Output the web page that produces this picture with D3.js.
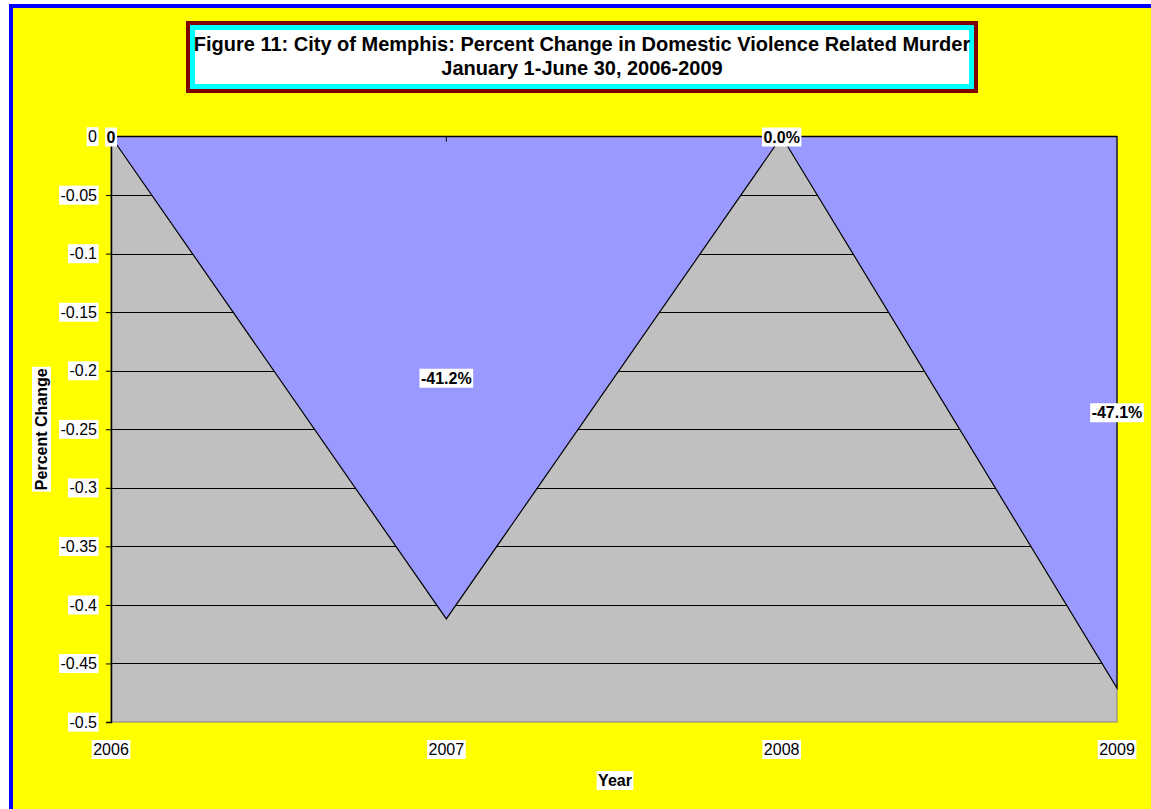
<!DOCTYPE html>
<html>
<head>
<meta charset="utf-8">
<script src="https://cdn.jsdelivr.net/npm/d3@7"></script>
<style>
  html, body { margin: 0; padding: 0; background: #ffffff; }
  svg { display: block; }
  text { font-family: "Liberation Sans", Arial, sans-serif; }
</style>
</head>
<body>
<svg id="chart" width="1151" height="809"></svg>
<script>
// ---- data ----
const years = ["2006", "2007", "2008", "2009"];
const percentChange = [0, -0.412, 0, -0.471];
const dataLabels = ["0", "-41.2%", "0.0%", "-47.1%"];
const yTicks = [0, -0.05, -0.1, -0.15, -0.2, -0.25, -0.3, -0.35, -0.4, -0.45, -0.5];
const titleLines = ["Figure 11: City of Memphis: Percent Change in Domestic Violence Related Murder",
                    "January 1-June 30, 2006-2009"];
const xTitle = "Year";
const yTitle = "Percent Change";

// ---- layout ----
const svg = d3.select("#chart");
const W = 1151, H = 809;
const plot = { left: 111, right: 1117, top: 136.5, bottom: 722 };

// background + blue frame
svg.append("rect").attr("x", 0).attr("y", 0).attr("width", W).attr("height", H).attr("fill", "#ffffff");
svg.append("rect").attr("x", 11).attr("y", 6).attr("width", W + 50).attr("height", H + 50)
  .attr("fill", "#FFFF00").attr("stroke", "#0000FF").attr("stroke-width", 4);

const x = d3.scalePoint().domain(years).range([plot.left, plot.right]);
const y = d3.scaleLinear().domain([-0.5, 0]).range([plot.bottom, plot.top]);

// plot background
svg.append("rect").attr("x", plot.left).attr("y", plot.top)
  .attr("width", plot.right - plot.left).attr("height", plot.bottom - plot.top)
  .attr("fill", "#C0C0C0").attr("stroke", "#808080").attr("stroke-width", 1);

// gridlines
svg.append("g").selectAll("line").data(yTicks.filter(t => t !== 0 && t !== -0.5)).join("line")
  .attr("x1", plot.left).attr("x2", plot.right)
  .attr("y1", d => Math.round(y(d)) + 0.5).attr("y2", d => Math.round(y(d)) + 0.5)
  .attr("stroke", "#000").attr("stroke-width", 1);

// area
const data = years.map((yr, i) => ({ yr, v: percentChange[i] }));
const area = d3.area().x(d => x(d.yr)).y0(y(0)).y1(d => y(d.v));
svg.append("path").datum(data).attr("d", area)
  .attr("fill", "#9999FF").attr("stroke", "#000").attr("stroke-width", 1.2)
  .attr("stroke-linejoin", "miter");

// top category axis line (at y=0)
svg.append("line").attr("x1", plot.left).attr("x2", plot.right)
  .attr("y1", y(0)).attr("y2", y(0)).attr("stroke", "#000").attr("stroke-width", 1.5);
// category ticks
svg.append("g").selectAll("line").data(years.slice(1, 3)).join("line")
  .attr("x1", d => x(d)).attr("x2", d => x(d))
  .attr("y1", y(0)).attr("y2", y(0) + 5).attr("stroke", "#000").attr("stroke-width", 1);

// y axis
const yAxis = d3.axisLeft(y).tickValues(yTicks).tickSize(5).tickPadding(9)
  .tickFormat(d => d === 0 ? "0" : d3.format("")(+d.toFixed(2)).replace("−", "-"));
const yg = svg.append("g").attr("transform", `translate(${plot.left},0)`).call(yAxis);
yg.select(".domain").attr("stroke", "#000").attr("stroke-width", 1.5);
yg.selectAll(".tick line").attr("stroke", "#000");
yg.selectAll(".tick text").attr("font-size", 16).attr("fill", "#000")
  .text(d => d === 0 ? "0" : String(+d.toFixed(2)));

// helper for white-backed labels
function whiteBack(sel, padX = 1.5, padY = 1) {
  sel.each(function () {
    const b = this.getBBox();
    d3.select(this.parentNode).insert("rect", () => this)
      .attr("x", b.x - padX).attr("y", b.y - padY)
      .attr("width", b.width + 2 * padX).attr("height", b.height + 2 * padY)
      .attr("fill", "#fff");
  });
}
whiteBack(yg.selectAll(".tick text"));

// x labels (low position)
const xl = svg.append("g").selectAll("text").data(years).join("text")
  .attr("x", d => x(d)).attr("y", 755).attr("text-anchor", "middle")
  .attr("font-size", 16).attr("fill", "#000").text(d => d);
whiteBack(xl);

// data labels at mid of area
const dl = svg.append("g").selectAll("text").data(data).join("text")
  .attr("x", d => x(d.yr)).attr("y", d => y(d.v / 2) + 6)
  .attr("text-anchor", "middle").attr("font-size", 16).attr("font-weight", "bold")
  .attr("fill", "#000").text((d, i) => dataLabels[i]);
whiteBack(dl);

// axis titles
const xt = svg.append("text").attr("x", 615).attr("y", 786).attr("text-anchor", "middle")
  .attr("font-size", 16).attr("font-weight", "bold").text(xTitle);
whiteBack(xt);
const ytg = svg.append("g").attr("transform", `translate(47,${(plot.top + plot.bottom) / 2}) rotate(-90)`);
const yt = ytg.append("text").attr("x", 0).attr("y", 0).attr("text-anchor", "middle")
  .attr("font-size", 16).attr("font-weight", "bold").text(yTitle);
whiteBack(yt);

// title box
const tb = { x: 186, y: 21, w: 792, h: 72 };
svg.append("rect").attr("x", tb.x + 2).attr("y", tb.y + 2).attr("width", tb.w - 4).attr("height", tb.h - 4)
  .attr("fill", "#fff").attr("stroke", "#800000").attr("stroke-width", 4);
svg.append("rect").attr("x", tb.x + 6.5).attr("y", tb.y + 6.5).attr("width", tb.w - 13).attr("height", tb.h - 13)
  .attr("fill", "#fff").attr("stroke", "#00FFFF").attr("stroke-width", 5);
svg.append("g").selectAll("text").data(titleLines).join("text")
  .attr("x", tb.x + tb.w / 2).attr("y", (d, i) => 51 + i * 24)
  .attr("text-anchor", "middle").attr("font-size", 20).attr("font-weight", "bold")
  .attr("fill", "#000").text(d => d);
</script>
</body>
</html>
